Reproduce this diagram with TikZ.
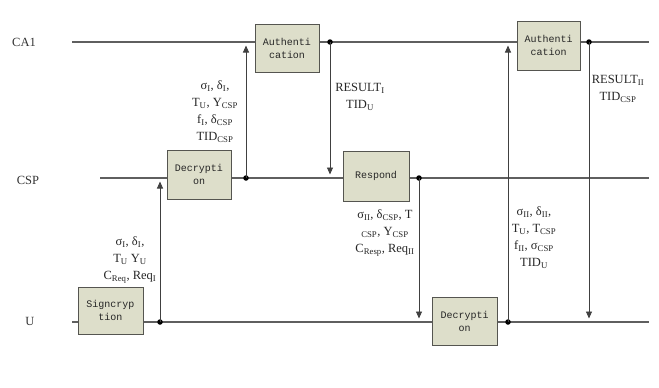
\documentclass[tikz,border=0pt]{standalone}
\usepackage{fontspec}
\setmainfont{Liberation Serif}
\newfontfamily\boxfont{Liberation Mono}
\usetikzlibrary{arrows.meta}
\newcommand\sbs[1]{\textsubscript{#1}}
\definecolor{boxfill}{RGB}{221,222,202}
\definecolor{boxline}{RGB}{85,85,80}
\definecolor{lifeline}{RGB}{95,95,95}
\tikzset{
  procbox/.style={draw=boxline, line width=1pt, fill=boxfill, inner sep=1pt,
    align=center, font=\boxfont\fontsize{10}{13}\selectfont, text=black!85},
  lline/.style={draw=lifeline, line width=1.1pt},
  msg/.style={draw=black!75, line width=0.9pt, -{Triangle[length=7pt,width=6pt]}, shorten >=3.5pt},
  dotn/.style={circle, fill=black, inner sep=0pt, minimum size=5.5pt},
  lbl/.style={align=center, font=\fontsize{12.5}{17}\selectfont, text=black!85, inner sep=1pt},
  actor/.style={font=\fontsize{12.5}{14}\selectfont, text=black!80}
}
\begin{document}
\begin{tikzpicture}[x=1pt,y=-1pt]
\useasboundingbox (0,0) rectangle (659,388);
% actors
\node[actor] (ca) at (24,42) {CA1};
\node[actor] (csp) at (28,180) {CSP};
\node[actor] (u) at (30,321) {U};
% lifeline ends
\coordinate (caL) at (72,42);   \coordinate (caR) at (649,42);
\coordinate (cspL) at (100,178); \coordinate (cspR) at (649,178);
\coordinate (uL) at (72,322);   \coordinate (uR) at (649,322);
\draw[lline] (caL) -- (caR);
\draw[lline] (cspL) -- (cspR);
\draw[lline] (uL) -- (uR);
% boxes
\node[procbox, minimum width=65pt, minimum height=47pt] (sig) at (110.5,310.5) {Signcryp\\tion};
\node[procbox, minimum width=64pt, minimum height=49pt] (dec1) at (199,174.5) {Decrypti\\on};
\node[procbox, minimum width=64pt, minimum height=48pt] (auth1) at (287,48) {Authenti\\cation};
\node[procbox, minimum width=66pt, minimum height=50pt] (resp) at (376,176) {Respond};
\node[procbox, minimum width=65pt, minimum height=48pt] (dec2) at (464.5,321) {Decrypti\\on};
\node[procbox, minimum width=63pt, minimum height=49pt] (auth2) at (548.5,45.5) {Authenti\\cation};
% dots
\node[dotn] (d1) at (160,322) {};
\node[dotn] (d2) at (246,178) {};
\node[dotn] (d3) at (330,42) {};
\node[dotn] (d4) at (419,178) {};
\node[dotn] (d5) at (508,322) {};
\node[dotn] (d6) at (589,42) {};
% arrow ends
\coordinate (e1) at (160,178);
\coordinate (e2) at (246,42);
\coordinate (e3) at (330,178);
\coordinate (e4) at (419,322);
\coordinate (e5) at (508,42);
\coordinate (e6) at (589,322);
\draw[msg] (d1.center) -- (e1);
\draw[msg] (d2.center) -- (e2);
\draw[msg] (d3.center) -- (e3);
\draw[msg] (d4.center) -- (e4);
\draw[msg] (d5.center) -- (e5);
\draw[msg] (d6.center) -- (e6);
% labels
\node[lbl] (l1) at (130,260) {σ\sbs{I}, δ\sbs{I},\\T\sbs{U} Y\sbs{U}\\C\sbs{Req}, Req\sbs{I}};
\node[lbl] (l2) at (215,112) {σ\sbs{I}, δ\sbs{I},\\T\sbs{U}, Y\sbs{CSP}\\f\sbs{I}, δ\sbs{CSP}\\TID\sbs{CSP}};
\node[lbl] (l3) at (360,97) {RESULT\sbs{I}\\TID\sbs{U}};
\node[lbl] (l4) at (385,233) {σ\sbs{II}, δ\sbs{CSP}, T\\\sbs{CSP}, Y\sbs{CSP}\\C\sbs{Resp}, Req\sbs{II}};
\node[lbl] (l5) at (534,238) {σ\sbs{II}, δ\sbs{II},\\T\sbs{U}, T\sbs{CSP}\\f\sbs{II}, σ\sbs{CSP}\\TID\sbs{U}};
\node[lbl] (l6) at (618,89) {RESULT\sbs{II}\\TID\sbs{CSP}};
\end{tikzpicture}
\end{document}
